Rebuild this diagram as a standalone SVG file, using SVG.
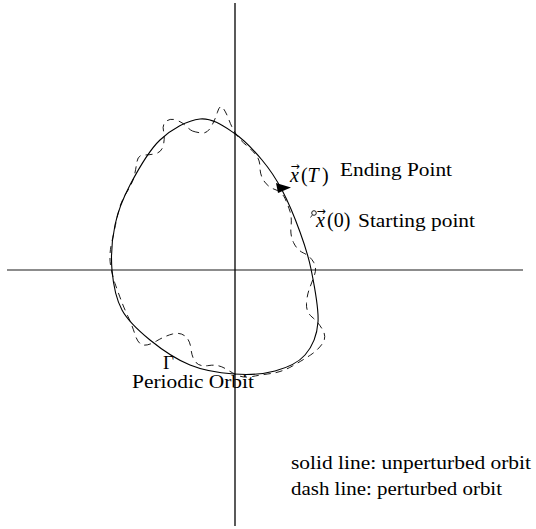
<svg xmlns="http://www.w3.org/2000/svg" width="536" height="529" viewBox="0 0 536 529">
<style>
.t{font-family:"Liberation Serif","DejaVu Serif","Noto Serif",serif;font-size:19px;fill:#000}
.m{font-family:"Liberation Serif","DejaVu Serif",serif;font-size:20px;fill:#000}
.v{font-family:"DejaVu Sans","Liberation Sans",sans-serif;font-size:11px}
.i{font-style:italic}
.solid{fill:none;stroke:#000;stroke-width:1.1}
.dash{fill:none;stroke:#000;stroke-width:0.9;stroke-dasharray:7 5}
</style>
<rect width="536" height="529" fill="#fff"/>
<g id="axes">
<line x1="7" y1="270" x2="523" y2="270" stroke="#666" stroke-width="1.5"/>
<line x1="235" y1="3" x2="235" y2="526" stroke="#000" stroke-width="1.3"/>
</g>
<g id="orbit">
<path class="solid" d="M200,119 C212.3,117.8 223.7,126.2 234,133 C244.3,139.8 254,150.5 262,160 C270,169.5 275.7,178 282,190 C288.3,202 295.2,218.8 300,232 C304.8,245.2 308,254 311,269 C314,284 319,307.7 318,322 C317,336.3 312.2,346.8 305,355 C297.8,363.2 286.8,367.8 275,371 C263.2,374.2 248.2,375 234,374 C219.8,373 204,370.7 190,365 C176,359.3 161.3,349.2 150,340 C138.7,330.8 128.3,321.7 122,310 C115.7,298.3 113.2,284.2 112,270 C110.8,255.8 112,239.2 115,225 C118,210.8 122.5,199.2 130,185 C137.5,170.8 148.3,151 160,140 C171.7,129 187.7,120.2 200,119 Z"/>
<polygon points="276,183 291,187.5 278,193" fill="#000"/>
</g>
<g id="perturbed">
<path class="dash" d="M192.5,131 Q195,132 201,133 Q207,134 211,127 Q215,120 217.5,112 Q220,104 223,108 Q226,112 229,120 Q232,128 236,134 Q240,140 246,145 Q252,150 256,155 Q260,160 260,167.5 Q260,175 264,181 Q268,187 275,189.5 Q282,192 285,198.5 Q288,205 290,211.5 Q292,218 291,226.5 Q290,235 293.5,242.5 Q297,250 303.5,253 Q310,256 313.5,262 Q317,268 314.5,275 Q312,282 309.5,288.5 Q307,295 306.5,303.5 Q306,312 312,317 Q318,322 322.5,329.5 Q327,337 322.5,343.5 Q318,350 310.5,355 Q303,360 292.5,366 Q282,372 271,373.5 Q260,375 252.5,376.5 Q245,378 239.5,376 Q234,374 226,369 Q218,364 209,365.5 Q200,367 196,362.5 Q192,358 191,349 Q190,340 185,336 Q180,332 172.5,334 Q165,336 156.5,341 Q148,346 143,345 Q138,344 135,334.5 Q132,325 128,316.5 Q124,308 121,300 Q118,292 115,283.5 Q112,275 110.5,265 Q109,255 111.5,243.5 Q114,232 116,222.5 Q118,213 120,206.5 Q122,200 127.5,191 Q133,182 134.5,175 Q136,168 137,161.5 Q138,155 144,155 Q150,155 156,153.5 Q162,152 163.5,144.5 Q165,137 163.5,131 Q162,125 166,121.5 Q170,118 176,120 Q182,122 186,126 Q190,130 192.5,131 Z"/>
</g>
<g id="start-point">
<circle cx="314" cy="213" r="2.3" fill="#fff" stroke="#000" stroke-width="0.9"/>
<line x1="312.3" y1="215" x2="310.5" y2="217.5" stroke="#000" stroke-width="0.8"/>
</g>
<g id="labels">
<text class="m"><tspan class="v" x="290.5" y="170">→</tspan><tspan class="i" x="290" y="182">x</tspan><tspan x="301" y="182">(</tspan><tspan class="i" x="307.5" y="182">T</tspan><tspan x="322" y="182">)</tspan></text>
<text class="t" x="340" y="176" textLength="112" lengthAdjust="spacingAndGlyphs">Ending Point</text>
<text class="m"><tspan class="v" x="316.5" y="215">→</tspan><tspan class="i" x="316" y="227">x</tspan><tspan x="327" y="227">(0)</tspan></text>
<text class="t" x="358" y="227" textLength="117" lengthAdjust="spacingAndGlyphs">Starting point</text>
<text class="t" x="163" y="369">Γ</text>
<text class="t" x="132" y="388" textLength="122" lengthAdjust="spacingAndGlyphs">Periodic Orbit</text>
<text class="t" x="291" y="469" textLength="240" lengthAdjust="spacingAndGlyphs">solid line: unperturbed orbit</text>
<text class="t" x="291" y="495" textLength="211" lengthAdjust="spacingAndGlyphs">dash line: perturbed orbit</text>
</g>
</svg>
